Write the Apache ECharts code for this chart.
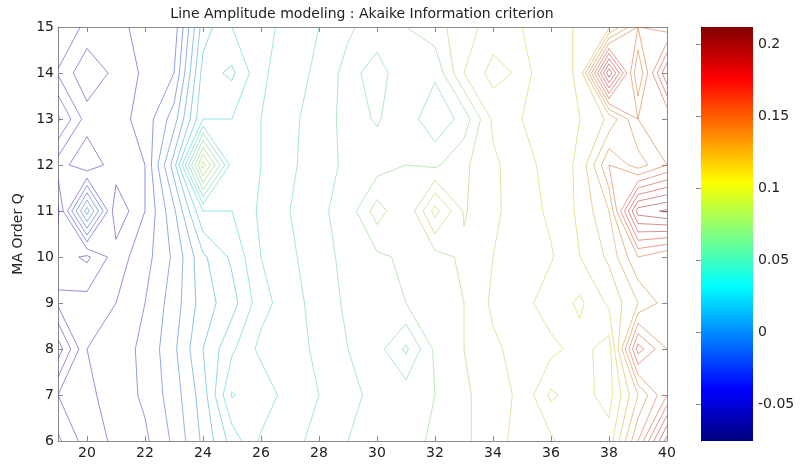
<!DOCTYPE html>
<html>
<head>
<meta charset="utf-8">
<script src="https://cdn.jsdelivr.net/npm/echarts@6/dist/echarts.min.js"></script>
<style>
  html, body { margin: 0; padding: 0; background: #fff; }
  #chart { width: 810px; height: 464px; }
</style>
</head>
<body>
<div id="chart"></div>
<script>
// AR order (x) and MA order (y) of the grid
const arOrders = [19, 20, 21, 22, 23, 24, 25, 26, 27, 28, 29, 30, 31, 32, 33, 34, 35, 36, 37, 38, 39, 40];
const maOrders = [6, 7, 8, 9, 10, 11, 12, 13, 14, 15];

// Akaike information criterion, one row per MA order (Q = 6 ... 15), one column per AR order
const aicQ6  = [-0.062, -0.045, -0.038, -0.032, -0.018, 0.002, 0.024, 0.042, 0.046, 0.054, 0.060, 0.062, 0.066, 0.072, 0.078, 0.086, 0.094, 0.098, 0.110, 0.104, 0.150, 0.205];
const aicQ7  = [-0.050, -0.042, -0.036, -0.028, -0.015, 0.005, 0.041, 0.032, 0.046, 0.050, 0.058, 0.062, 0.066, 0.070, 0.078, 0.086, 0.092, 0.112, 0.104, 0.096, 0.130, 0.160];
const aicQ8  = [-0.0757, -0.040, -0.034, -0.028, -0.012, 0.010, 0.028, 0.043, 0.046, 0.052, 0.060, 0.064, 0.048, 0.072, 0.080, 0.088, 0.094, 0.097, 0.104, 0.095, 0.175, 0.150];
const aicQ9  = [-0.048, -0.046, -0.040, -0.030, -0.015, 0.005, 0.016, 0.036, 0.046, 0.054, 0.062, 0.066, 0.070, 0.074, 0.080, 0.092, 0.096, 0.106, 0.098, 0.112, 0.130, 0.145];
const aicQ10 = [-0.055, -0.062, -0.045, -0.034, -0.018, 0.008, 0.022, 0.040, 0.048, 0.056, 0.063, 0.068, 0.072, 0.076, 0.082, 0.090, 0.096, 0.099, 0.110, 0.122, 0.150, 0.140];
const aicQ11 = [-0.062, 0.005, -0.058, -0.040, -0.012, 0.030, 0.030, 0.042, 0.050, 0.058, 0.064, 0.085, 0.070, 0.104, 0.079, 0.088, 0.095, 0.102, 0.112, 0.130, 0.205, 0.2118];
const aicQ12 = [-0.045, -0.058, -0.044, -0.040, 0.005, 0.095, 0.035, 0.040, 0.048, 0.056, 0.062, 0.065, 0.070, 0.068, 0.078, 0.088, 0.096, 0.104, 0.112, 0.150, 0.135, 0.150];
const aicQ13 = [-0.018, -0.045, -0.044, -0.036, -0.015, 0.030, 0.030, 0.040, 0.048, 0.054, 0.064, 0.059, 0.066, 0.052, 0.064, 0.092, 0.100, 0.106, 0.110, 0.122, 0.150, 0.150];
const aicQ14 = [-0.041, -0.058, -0.047, -0.038, -0.030, 0.024, 0.018, 0.038, 0.046, 0.052, 0.064, 0.055, 0.068, 0.062, 0.090, 0.104, 0.098, 0.104, 0.112, 0.208, 0.130, 0.190];
const aicQ15 = [-0.030, -0.043, -0.048, -0.030, -0.036, 0.015, 0.030, 0.036, 0.044, 0.050, 0.058, 0.066, 0.070, 0.076, 0.086, 0.094, 0.100, 0.104, 0.112, 0.118, 0.150, 0.145];

// contour levels and tick labels
const contourLevels = [-0.07, -0.06, -0.05, -0.04, -0.03, -0.02, -0.01, 0, 0.01, 0.02, 0.03, 0.04, 0.05, 0.06, 0.07,
                       0.08, 0.09, 0.10, 0.11, 0.12, 0.13, 0.14, 0.15, 0.16, 0.17, 0.18, 0.19, 0.20, 0.21];
const xTicks = [20, 22, 24, 26, 28, 30, 32, 34, 36, 38, 40];
const colorbarTicks = [-0.05, 0, 0.05, 0.1, 0.15, 0.2];

const titleText = 'Line Amplitude modeling : Akaike Information criterion';
const yName = 'MA Order Q';

const aicGrid = [aicQ6, aicQ7, aicQ8, aicQ9, aicQ10, aicQ11, aicQ12, aicQ13, aicQ14, aicQ15];

// colour limits follow the data range
let cMin = Infinity, cMax = -Infinity;
aicGrid.forEach(r => r.forEach(v => { cMin = Math.min(cMin, v); cMax = Math.max(cMax, v); }));

// jet colormap
function jet(t) {
  t = Math.max(0, Math.min(1, t));
  const cl = c => Math.max(0, Math.min(1, c));
  return [
    cl(Math.min(4 * t - 1.5, -4 * t + 4.5)),
    cl(Math.min(4 * t - 0.5, -4 * t + 3.5)),
    cl(Math.min(4 * t + 0.5, -4 * t + 2.5))
  ];
}
// contour line colour: jet, toned down a little towards grey
function levelColor(v) {
  const c = jet((v - cMin) / (cMax - cMin));
  const mixed = c.map(ch => Math.round(0.62 * 255 * ch + 0.38 * 140));
  return 'rgb(' + mixed.join(',') + ')';
}

// marching squares: line segments of one level over the grid
function contourSegments(xs, ys, z, level) {
  const segs = [];
  for (let j = 0; j < ys.length - 1; j++) {
    for (let i = 0; i < xs.length - 1; i++) {
      const v0 = z[j][i], v1 = z[j][i + 1], v2 = z[j + 1][i + 1], v3 = z[j + 1][i];
      let idx = 0;
      if (v0 >= level) idx |= 1;
      if (v1 >= level) idx |= 2;
      if (v2 >= level) idx |= 4;
      if (v3 >= level) idx |= 8;
      if (idx === 0 || idx === 15) continue;
      const x0 = xs[i], x1 = xs[i + 1], y0 = ys[j], y1 = ys[j + 1];
      const t = (a, b) => (level - a) / (b - a);
      const B = () => [x0 + t(v0, v1) * (x1 - x0), y0];
      const R = () => [x1, y0 + t(v1, v2) * (y1 - y0)];
      const T = () => [x0 + t(v3, v2) * (x1 - x0), y1];
      const L = () => [x0, y0 + t(v0, v3) * (y1 - y0)];
      const centerAbove = (v0 + v1 + v2 + v3) / 4 >= level;
      const add = (p, q) => segs.push([p[0], p[1], q[0], q[1], level]);
      switch (idx) {
        case 1: case 14: add(L(), B()); break;
        case 2: case 13: add(B(), R()); break;
        case 3: case 12: add(L(), R()); break;
        case 4: case 11: add(R(), T()); break;
        case 6: case 9: add(B(), T()); break;
        case 7: case 8: add(L(), T()); break;
        case 5:
          if (centerAbove) { add(B(), R()); add(L(), T()); }
          else { add(L(), B()); add(R(), T()); }
          break;
        case 10:
          if (centerAbove) { add(L(), B()); add(R(), T()); }
          else { add(B(), R()); add(L(), T()); }
          break;
      }
    }
  }
  return segs;
}

let segments = [];
contourLevels.forEach(lv => { segments = segments.concat(contourSegments(arOrders, maOrders, aicGrid, lv)); });

const font = "'DejaVu Sans', Verdana, sans-serif";
const axisGrey = '#8a8a8a';
const textColor = '#222';

const jetStops = [
  { offset: 0, color: 'rgb(0,0,128)' },
  { offset: 0.125, color: 'rgb(0,0,255)' },
  { offset: 0.375, color: 'rgb(0,255,255)' },
  { offset: 0.625, color: 'rgb(255,255,0)' },
  { offset: 0.875, color: 'rgb(255,0,0)' },
  { offset: 1, color: 'rgb(128,0,0)' }
];

const chart = echarts.init(document.getElementById('chart'), null, { renderer: 'canvas' });

const option = {
  animation: false,
  backgroundColor: '#fff',
  graphic: [{
    type: 'text', x: 362, y: 7,
    style: { text: titleText, font: '14px ' + font, fill: textColor, textAlign: 'center' }
  }],
  grid: [
    { left: 58, top: 27, width: 609, height: 414 },
    { left: 701, top: 27, width: 52, height: 414 }
  ],
  xAxis: [
    {
      gridIndex: 0, type: 'value', min: 19, max: 40, position: 'bottom',
      axisLine: { show: true, lineStyle: { color: axisGrey, width: 1 } },
      axisTick: { show: true, inside: true, length: 5, customValues: xTicks, lineStyle: { color: axisGrey } },
      axisLabel: { customValues: xTicks, color: textColor, fontSize: 14, fontFamily: font, margin: 5 },
      splitLine: { show: false }
    },
    {
      gridIndex: 0, type: 'value', min: 19, max: 40, position: 'top',
      axisLine: { show: true, lineStyle: { color: axisGrey, width: 1 } },
      axisTick: { show: true, inside: true, length: 5, customValues: xTicks, lineStyle: { color: axisGrey } },
      axisLabel: { show: false },
      splitLine: { show: false }
    },
    {
      gridIndex: 1, type: 'value', min: 0, max: 1, position: 'bottom',
      axisLine: { show: true, lineStyle: { color: axisGrey } },
      axisTick: { show: false }, axisLabel: { show: false }, splitLine: { show: false }
    },
    {
      gridIndex: 1, type: 'value', min: 0, max: 1, position: 'top',
      axisLine: { show: true, lineStyle: { color: axisGrey } },
      axisTick: { show: false }, axisLabel: { show: false }, splitLine: { show: false }
    }
  ],
  yAxis: [
    {
      gridIndex: 0, type: 'value', min: 6, max: 15, interval: 1, position: 'left',
      name: yName, nameLocation: 'middle', nameGap: 23, nameRotate: 90,
      nameTextStyle: { color: textColor, fontSize: 14, fontFamily: font },
      axisLine: { show: true, lineStyle: { color: axisGrey, width: 1 } },
      axisTick: { show: true, inside: true, length: 5, lineStyle: { color: axisGrey } },
      axisLabel: { color: textColor, fontSize: 14, fontFamily: font, margin: 4 },
      splitLine: { show: false }
    },
    {
      gridIndex: 0, type: 'value', min: 6, max: 15, interval: 1, position: 'right',
      axisLine: { show: true, lineStyle: { color: axisGrey, width: 1 } },
      axisTick: { show: true, inside: true, length: 5, lineStyle: { color: axisGrey } },
      axisLabel: { show: false },
      splitLine: { show: false }
    },
    {
      gridIndex: 1, type: 'value', min: cMin, max: cMax, position: 'right',
      axisLine: { show: true, lineStyle: { color: axisGrey } },
      axisTick: { show: true, inside: true, length: 5, customValues: colorbarTicks, lineStyle: { color: axisGrey } },
      axisLabel: { customValues: colorbarTicks, color: textColor, fontSize: 14, fontFamily: font, margin: 5,
                   formatter: v => String(v) },
      splitLine: { show: false }
    },
    {
      gridIndex: 1, type: 'value', min: cMin, max: cMax, position: 'left',
      axisLine: { show: true, lineStyle: { color: axisGrey } },
      axisTick: { show: true, inside: true, length: 5, customValues: colorbarTicks, lineStyle: { color: axisGrey } },
      axisLabel: { show: false },
      splitLine: { show: false }
    }
  ],
  series: [
    {
      // contour lines, one segment per item
      type: 'custom',
      xAxisIndex: 0, yAxisIndex: 0,
      clip: true,
      encode: { x: [0, 2], y: [1, 3] },
      data: segments,
      renderItem: (params, api) => {
        const p1 = api.coord([api.value(0), api.value(1)]);
        const p2 = api.coord([api.value(2), api.value(3)]);
        return {
          type: 'line',
          shape: { x1: p1[0], y1: p1[1], x2: p2[0], y2: p2[1] },
          style: { stroke: levelColor(api.value(4)), lineWidth: 1, opacity: 0.55 }
        };
      }
    },
    {
      // colorbar
      type: 'custom',
      xAxisIndex: 2, yAxisIndex: 2,
      encode: { x: [0, 2], y: [1, 3] },
      data: [[0, cMin, 1, cMax]],
      renderItem: (params, api) => {
        const p1 = api.coord([api.value(0), api.value(1)]);
        const p2 = api.coord([api.value(2), api.value(3)]);
        return {
          type: 'rect',
          shape: { x: p1[0], y: p2[1], width: p2[0] - p1[0], height: p1[1] - p2[1] },
          style: {
            fill: new echarts.graphic.LinearGradient(0, 1, 0, 0, jetStops),
            stroke: null
          }
        };
      },
      z: 1
    }
  ]
};

chart.setOption(option);
</script>
</body>
</html>
